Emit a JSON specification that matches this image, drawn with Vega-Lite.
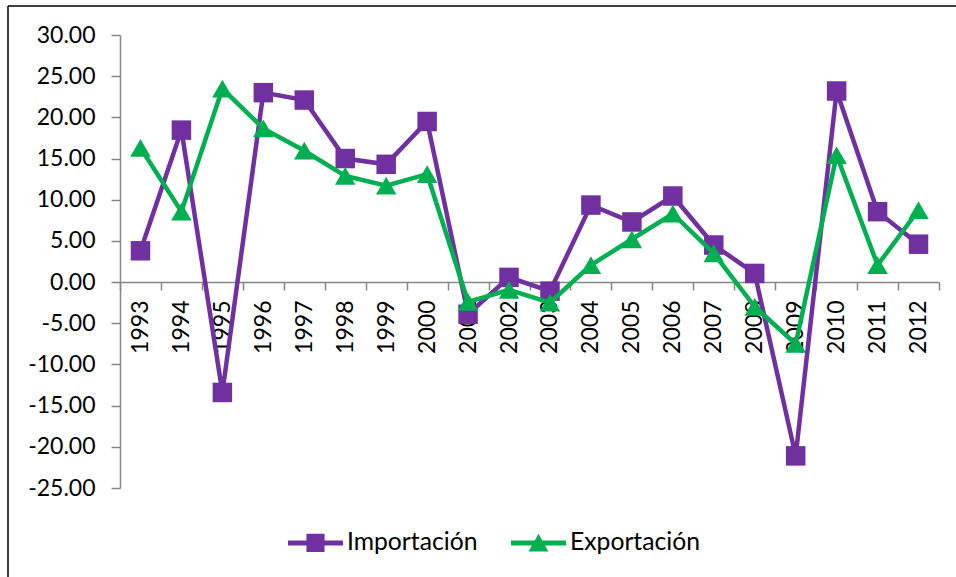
{
  "$schema": "https://vega.github.io/schema/vega-lite/v6.json",
  "width": 948,
  "height": 571,
  "autosize": {"type": "none"},
  "padding": {"left": 8, "top": 6, "right": 0, "bottom": 0},
  "background": "white",
  "config": {"view": {"stroke": "black", "strokeWidth": 1.5, "strokeDash": [948, 1519, 571, 0]}, "font": "Lato"},
  "data": {"values": [
    {"year": "1993", "serie": "Importación", "valor": 3.8},
    {"year": "1994", "serie": "Importación", "valor": 18.45},
    {"year": "1995", "serie": "Importación", "valor": -13.4},
    {"year": "1996", "serie": "Importación", "valor": 23.0},
    {"year": "1997", "serie": "Importación", "valor": 22.1},
    {"year": "1998", "serie": "Importación", "valor": 15.0},
    {"year": "1999", "serie": "Importación", "valor": 14.3},
    {"year": "2000", "serie": "Importación", "valor": 19.5},
    {"year": "2001", "serie": "Importación", "valor": -3.9},
    {"year": "2002", "serie": "Importación", "valor": 0.57},
    {"year": "2003", "serie": "Importación", "valor": -1.1},
    {"year": "2004", "serie": "Importación", "valor": 9.35},
    {"year": "2005", "serie": "Importación", "valor": 7.3},
    {"year": "2006", "serie": "Importación", "valor": 10.45},
    {"year": "2007", "serie": "Importación", "valor": 4.5},
    {"year": "2008", "serie": "Importación", "valor": 1.05},
    {"year": "2009", "serie": "Importación", "valor": -21.1},
    {"year": "2010", "serie": "Importación", "valor": 23.2},
    {"year": "2011", "serie": "Importación", "valor": 8.55},
    {"year": "2012", "serie": "Importación", "valor": 4.6},
    {"year": "1993", "serie": "Exportación", "valor": 16.3},
    {"year": "1994", "serie": "Exportación", "valor": 8.55},
    {"year": "1995", "serie": "Exportación", "valor": 23.5},
    {"year": "1996", "serie": "Exportación", "valor": 18.65},
    {"year": "1997", "serie": "Exportación", "valor": 15.95},
    {"year": "1998", "serie": "Exportación", "valor": 12.9},
    {"year": "1999", "serie": "Exportación", "valor": 11.7},
    {"year": "2000", "serie": "Exportación", "valor": 13.1},
    {"year": "2001", "serie": "Exportación", "valor": -2.4},
    {"year": "2002", "serie": "Exportación", "valor": -0.95},
    {"year": "2003", "serie": "Exportación", "valor": -2.5},
    {"year": "2004", "serie": "Exportación", "valor": 2.06},
    {"year": "2005", "serie": "Exportación", "valor": 5.2},
    {"year": "2006", "serie": "Exportación", "valor": 8.3},
    {"year": "2007", "serie": "Exportación", "valor": 3.5},
    {"year": "2008", "serie": "Exportación", "valor": -3.0},
    {"year": "2009", "serie": "Exportación", "valor": -7.5},
    {"year": "2010", "serie": "Exportación", "valor": 15.4},
    {"year": "2011", "serie": "Exportación", "valor": 2.06},
    {"year": "2012", "serie": "Exportación", "valor": 8.75}
  ]},
  "encoding": {
    "x": {
      "field": "year", "type": "ordinal",
      "scale": {"type": "band", "range": [112, 931], "paddingInner": 0, "paddingOuter": 0},
      "axis": {
        "title": null, "orient": "bottom", "offset": -295, "tickBand": "extent",
        "domainColor": "#868686", "domainWidth": 1.5, "tickColor": "#868686", "tickWidth": 1.5, "tickSize": 8,
        "labelAngle": -90, "labelPadding": 10, "labelFont": "Lato", "labelFontSize": 23, "labelColor": "black",
        "labelOverlap": false, "grid": false
      }
    },
    "y": {
      "field": "valor", "type": "quantitative",
      "scale": {"domain": [-25, 30], "range": [482, 29], "nice": false, "zero": false},
      "axis": {
        "title": null, "offset": -112, "values": [-25, -20, -15, -10, -5, 0, 5, 10, 15, 20, 25, 30],
        "labelExpr": "replace(format(datum.value, '.2f'), '−', '-')",
        "domainColor": "#868686", "domainWidth": 1.5, "tickColor": "#868686", "tickWidth": 1.5, "tickSize": 9,
        "labelPadding": 16, "labelFont": "Lato", "labelFontSize": 23, "labelColor": "black",
        "labelOverlap": false, "grid": false
      }
    }
  },
  "layer": [
    {
      "transform": [{"filter": "datum.serie === 'Importación'"}],
      "mark": {"type": "line", "color": "#7030A0", "strokeWidth": 4.5}
    },
    {
      "transform": [{"filter": "datum.serie === 'Importación'"}],
      "mark": {"type": "point", "shape": "square", "size": 380, "filled": true, "opacity": 1, "color": "#7030A0"}
    },
    {
      "transform": [{"filter": "datum.serie === 'Exportación'"}],
      "mark": {"type": "line", "color": "#00B050", "strokeWidth": 4.5}
    },
    {
      "transform": [{"filter": "datum.serie === 'Exportación'"}],
      "mark": {"type": "point", "shape": "triangle-up", "size": 420, "filled": true, "opacity": 1, "color": "#00B050"}
    },
    {
      "transform": [{"filter": "false"}],
      "mark": {"type": "point", "filled": true, "opacity": 1},
      "encoding": {
        "color": {
          "field": "serie", "type": "nominal",
          "scale": {"domain": ["Importación", "Exportación"], "range": ["#7030A0", "#00B050"]},
          "legend": {"title": null, "orient": "none", "legendX": 280, "legendY": 509, "direction": "horizontal",
            "symbolSize": 3025, "symbolStrokeWidth": 0, "labelFont": "Lato", "labelFontSize": 24.7, "labelColor": "black",
            "labelOffset": 4, "columnPadding": 33, "padding": 0, "labelLimit": 0}
        },
        "shape": {
          "field": "serie", "type": "nominal",
          "scale": {"domain": ["Importación", "Exportación"], "range": [
            "M-1,-0.09L1,-0.09L1,0.09L-1,0.09Z M-0.33,-0.33L0.33,-0.33L0.33,0.33L-0.33,0.33Z",
            "M-1,-0.09L1,-0.09L1,0.09L-1,0.09Z M0,-0.33L0.36,0.31L-0.36,0.31Z"
          ]},
          "legend": {"title": null, "orient": "none", "legendX": 280, "legendY": 509, "direction": "horizontal",
            "symbolSize": 3025, "symbolStrokeWidth": 0, "labelFont": "Lato", "labelFontSize": 24.7, "labelColor": "black",
            "labelOffset": 4, "columnPadding": 33, "padding": 0, "labelLimit": 0}
        }
      }
    }
  ]
}
